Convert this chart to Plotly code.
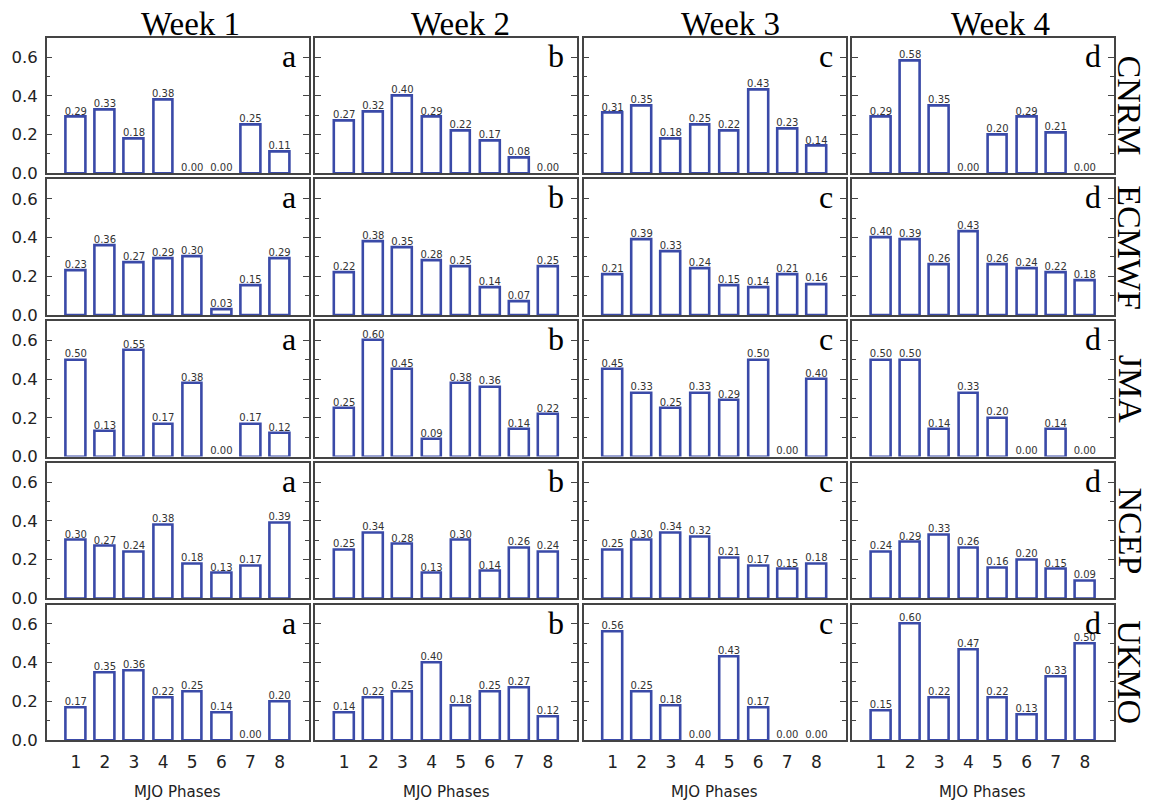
import plotly.graph_objects as go

phases = [1, 2, 3, 4, 5, 6, 7, 8]
weeks = ["Week 1", "Week 2", "Week 3", "Week 4"]
models = ["CNRM", "ECMWF", "JMA", "NCEP", "UKMO"]
letters = ["a", "b", "c", "d"]

cnrm_w1 = [0.29, 0.33, 0.18, 0.38, 0.00, 0.00, 0.25, 0.11]
cnrm_w2 = [0.27, 0.32, 0.40, 0.29, 0.22, 0.17, 0.08, 0.00]
cnrm_w3 = [0.31, 0.35, 0.18, 0.25, 0.22, 0.43, 0.23, 0.14]
cnrm_w4 = [0.29, 0.58, 0.35, 0.00, 0.20, 0.29, 0.21, 0.00]

ecmwf_w1 = [0.23, 0.36, 0.27, 0.29, 0.30, 0.03, 0.15, 0.29]
ecmwf_w2 = [0.22, 0.38, 0.35, 0.28, 0.25, 0.14, 0.07, 0.25]
ecmwf_w3 = [0.21, 0.39, 0.33, 0.24, 0.15, 0.14, 0.21, 0.16]
ecmwf_w4 = [0.40, 0.39, 0.26, 0.43, 0.26, 0.24, 0.22, 0.18]

jma_w1 = [0.50, 0.13, 0.55, 0.17, 0.38, 0.00, 0.17, 0.12]
jma_w2 = [0.25, 0.60, 0.45, 0.09, 0.38, 0.36, 0.14, 0.22]
jma_w3 = [0.45, 0.33, 0.25, 0.33, 0.29, 0.50, 0.00, 0.40]
jma_w4 = [0.50, 0.50, 0.14, 0.33, 0.20, 0.00, 0.14, 0.00]

ncep_w1 = [0.30, 0.27, 0.24, 0.38, 0.18, 0.13, 0.17, 0.39]
ncep_w2 = [0.25, 0.34, 0.28, 0.13, 0.30, 0.14, 0.26, 0.24]
ncep_w3 = [0.25, 0.30, 0.34, 0.32, 0.21, 0.17, 0.15, 0.18]
ncep_w4 = [0.24, 0.29, 0.33, 0.26, 0.16, 0.20, 0.15, 0.09]

ukmo_w1 = [0.17, 0.35, 0.36, 0.22, 0.25, 0.14, 0.00, 0.20]
ukmo_w2 = [0.14, 0.22, 0.25, 0.40, 0.18, 0.25, 0.27, 0.12]
ukmo_w3 = [0.56, 0.25, 0.18, 0.00, 0.43, 0.17, 0.00, 0.00]
ukmo_w4 = [0.15, 0.60, 0.22, 0.47, 0.22, 0.13, 0.33, 0.50]

data = [
    [cnrm_w1, cnrm_w2, cnrm_w3, cnrm_w4],
    [ecmwf_w1, ecmwf_w2, ecmwf_w3, ecmwf_w4],
    [jma_w1, jma_w2, jma_w3, jma_w4],
    [ncep_w1, ncep_w2, ncep_w3, ncep_w4],
    [ukmo_w1, ukmo_w2, ukmo_w3, ukmo_w4],
]

W, H = 1150, 805
BAR_COLOR = "#3a4aa8"
FRAME = "#444444"
SERIF = "Liberation Serif, Times New Roman, serif"
SANS = "DejaVu Sans, sans-serif"

col_left = [46.7 + i * 268.4 for i in range(4)]
col_w = 262.0
row_top = [37.7 + j * 141.7 for j in range(5)]
row_h = 135.5

fig = go.Figure()
layout = dict(
    width=W, height=H, autosize=False,
    margin=dict(l=0, r=0, t=0, b=0, pad=0, autoexpand=False),
    paper_bgcolor="white", plot_bgcolor="white",
    showlegend=False,
    bargap=0,
)
annotations = []

for r in range(5):
    for c in range(4):
        idx = r * 4 + c + 1
        xa = "x" if idx == 1 else f"x{idx}"
        ya = "y" if idx == 1 else f"y{idx}"
        vals = data[r][c]
        fig.add_trace(go.Bar(
            x=phases, y=vals, width=0.68,
            marker=dict(color="rgba(255,255,255,0)",
                        line=dict(color=BAR_COLOR, width=[2.6 if v > 0 else 0 for v in vals])),
            xaxis=xa, yaxis=ya, hoverinfo="skip",
        ))
        fig.add_trace(go.Scatter(
            x=phases, y=vals, mode="text",
            text=[f"{v:.2f}" for v in vals],
            textposition="top center",
            textfont=dict(family=SANS, size=10, color="#333333"),
            xaxis=xa, yaxis=ya, hoverinfo="skip", cliponaxis=False,
        ))
        x0 = col_left[c] / W
        x1 = (col_left[c] + col_w) / W
        y1 = 1 - row_top[r] / H
        y0 = 1 - (row_top[r] + row_h) / H
        xkey = "xaxis" if idx == 1 else f"xaxis{idx}"
        ykey = "yaxis" if idx == 1 else f"yaxis{idx}"
        layout[xkey] = dict(
            domain=[x0, x1], anchor=ya, range=[0, 9], automargin=False,
            tickmode="array", tickvals=phases, ticktext=[str(p) for p in phases],
            showticklabels=(r == 4), ticks="",
            showline=True, linecolor=FRAME, linewidth=1.5, mirror=True,
            showgrid=False, zeroline=False,
            tickfont=dict(family=SANS, size=17, color="#222222"),
            ticklabelstandoff=6,
        )
        layout[ykey] = dict(
            domain=[y0, y1], anchor=xa, range=[0, 0.7], automargin=False,
            tickmode="array", tickvals=[0, 0.2, 0.4, 0.6],
            ticktext=["0.0", "0.2", "0.4", "0.6"],
            showticklabels=(c == 0),
            ticks="inside", ticklen=6, tickwidth=1.2, tickcolor=FRAME,
            minor=dict(tickmode="array", tickvals=[0.1, 0.3, 0.5], ticks="inside",
                       ticklen=4, tickwidth=1.2, tickcolor=FRAME),
            showline=True, linecolor=FRAME, linewidth=1.5, mirror="ticks",
            showgrid=False, zeroline=False,
            tickfont=dict(family=SANS, size=16.5, color="#222222"),
            ticklabelstandoff=4,
        )
        annotations.append(dict(
            text=letters[c], xref="paper", yref="paper",
            x=(col_left[c] + col_w - 11) / W, y=1 - (row_top[r] + 18) / H,
            xanchor="right", yanchor="middle", showarrow=False,
            font=dict(family=SERIF, size=32, color="black"),
        ))

for c in range(4):
    annotations.append(dict(
        text=weeks[c], xref="paper", yref="paper",
        x=(190 + c * 270) / W, y=1 - 24 / H,
        xanchor="center", yanchor="middle", showarrow=False,
        font=dict(family=SERIF, size=33, color="black"),
    ))
    annotations.append(dict(
        text="MJO Phases", xref="paper", yref="paper",
        x=(col_left[c] + col_w / 2) / W, y=1 - 792 / H,
        xanchor="center", yanchor="middle", showarrow=False,
        font=dict(family=SANS, size=15, color="#222222"),
    ))

for r in range(5):
    annotations.append(dict(
        text=models[r], xref="paper", yref="paper",
        x=1130 / W, y=1 - (row_top[r] + row_h / 2) / H,
        xanchor="center", yanchor="middle", showarrow=False, textangle=90,
        font=dict(family=SERIF, size=34, color="black"),
    ))

layout["annotations"] = annotations
fig.update_layout(**layout)
fig.write_html("out.html")
